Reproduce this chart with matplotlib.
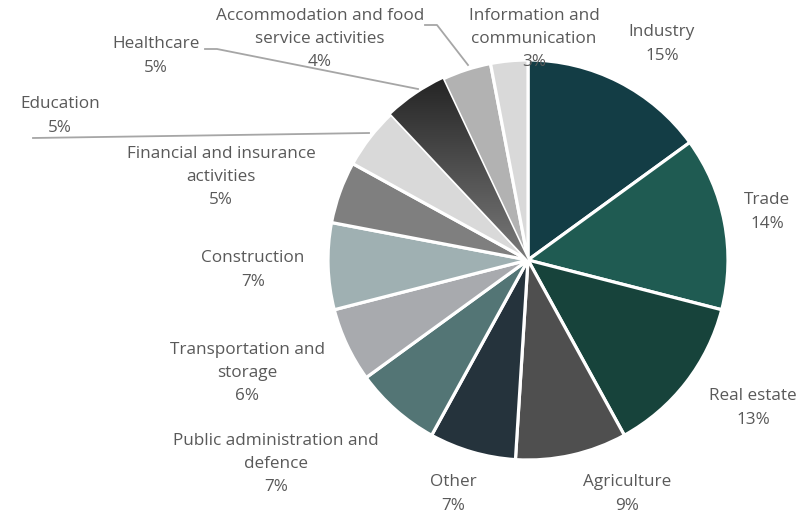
import matplotlib.pyplot as plt
import numpy as np
from matplotlib.colors import LinearSegmentedColormap

plt.rcParams['font.family'] = ['Open Sans', 'DejaVu Sans']

# share of each sector, clockwise from the top
sectors = ['Industry', 'Trade', 'Real estate', 'Agriculture', 'Other',
           'Public administration and\ndefence', 'Transportation and\nstorage',
           'Construction', 'Financial and insurance\nactivities', 'Education',
           'Healthcare', 'Accommodation and food\nservice activities',
           'Information and\ncommunication']
shares = [15, 14, 13, 9, 7, 7, 6, 7, 5, 5, 5, 4, 3]
colors = ['#133d45', '#1f5b52', '#17433b', '#4f4f4f', '#25333c', '#537575',
          '#a8aaae', '#9fb0b2', '#7f7f7f', '#d9d9d9', '#444444', '#b2b2b2',
          '#d9d9d9']

# label anchors (pixels, from top-left)
label_xy = [(662, 44), (767, 212), (753, 408), (627, 494), (453, 494),
            (276, 464), (247, 373), (253, 270), (221, 177), (60, 116),
            (156, 56), (320, 39), (534, 39)]

W, H = 801, 516
fig = plt.figure(figsize=(W / 100, H / 100), dpi=100)
ax = fig.add_axes([0, 0, 1, 1])

wedges, _ = ax.pie(shares, colors=colors, startangle=90, counterclock=False,
                   center=(528, H - 260), radius=200, normalize=True,
                   wedgeprops=dict(edgecolor='white', linewidth=2.3))
ax.set_aspect('auto')
ax.axis('off')

# healthcare slice gets a dark-to-grey gradient
hc = wedges[10]
cx, cy = hc.center
r = hc.r
grad = np.linspace(0, 1, 256).reshape(-1, 1)
cmap = LinearSegmentedColormap.from_list('hc', ['#1c1c1c', '#7a7a7a'])
img = ax.imshow(grad, cmap=cmap, aspect='auto', origin='upper',
                extent=(cx - r, cx + r, cy, cy + r), zorder=hc.get_zorder())
img.set_clip_path(hc)
hc.set_facecolor('none')
ax.set_xlim(0, W)
ax.set_ylim(0, H)

for name, v, (px, py) in zip(sectors, shares, label_xy):
    ax.text(px, H - py, f'{name}\n{v}%', ha='center', va='center',
            fontsize=12.3, color='#595959', linespacing=1.6, zorder=5)

# leader lines
line_kw = dict(color='#a6a6a6', linewidth=1.3, zorder=1)
ax.plot([33, 369], [H - 138, H - 133], **line_kw)
ax.plot([205, 217, 418], [H - 49, H - 49, H - 89], **line_kw)
ax.plot([425, 437, 468], [H - 25, H - 25, H - 65], **line_kw)

fig.savefig('out.png', dpi=100)
